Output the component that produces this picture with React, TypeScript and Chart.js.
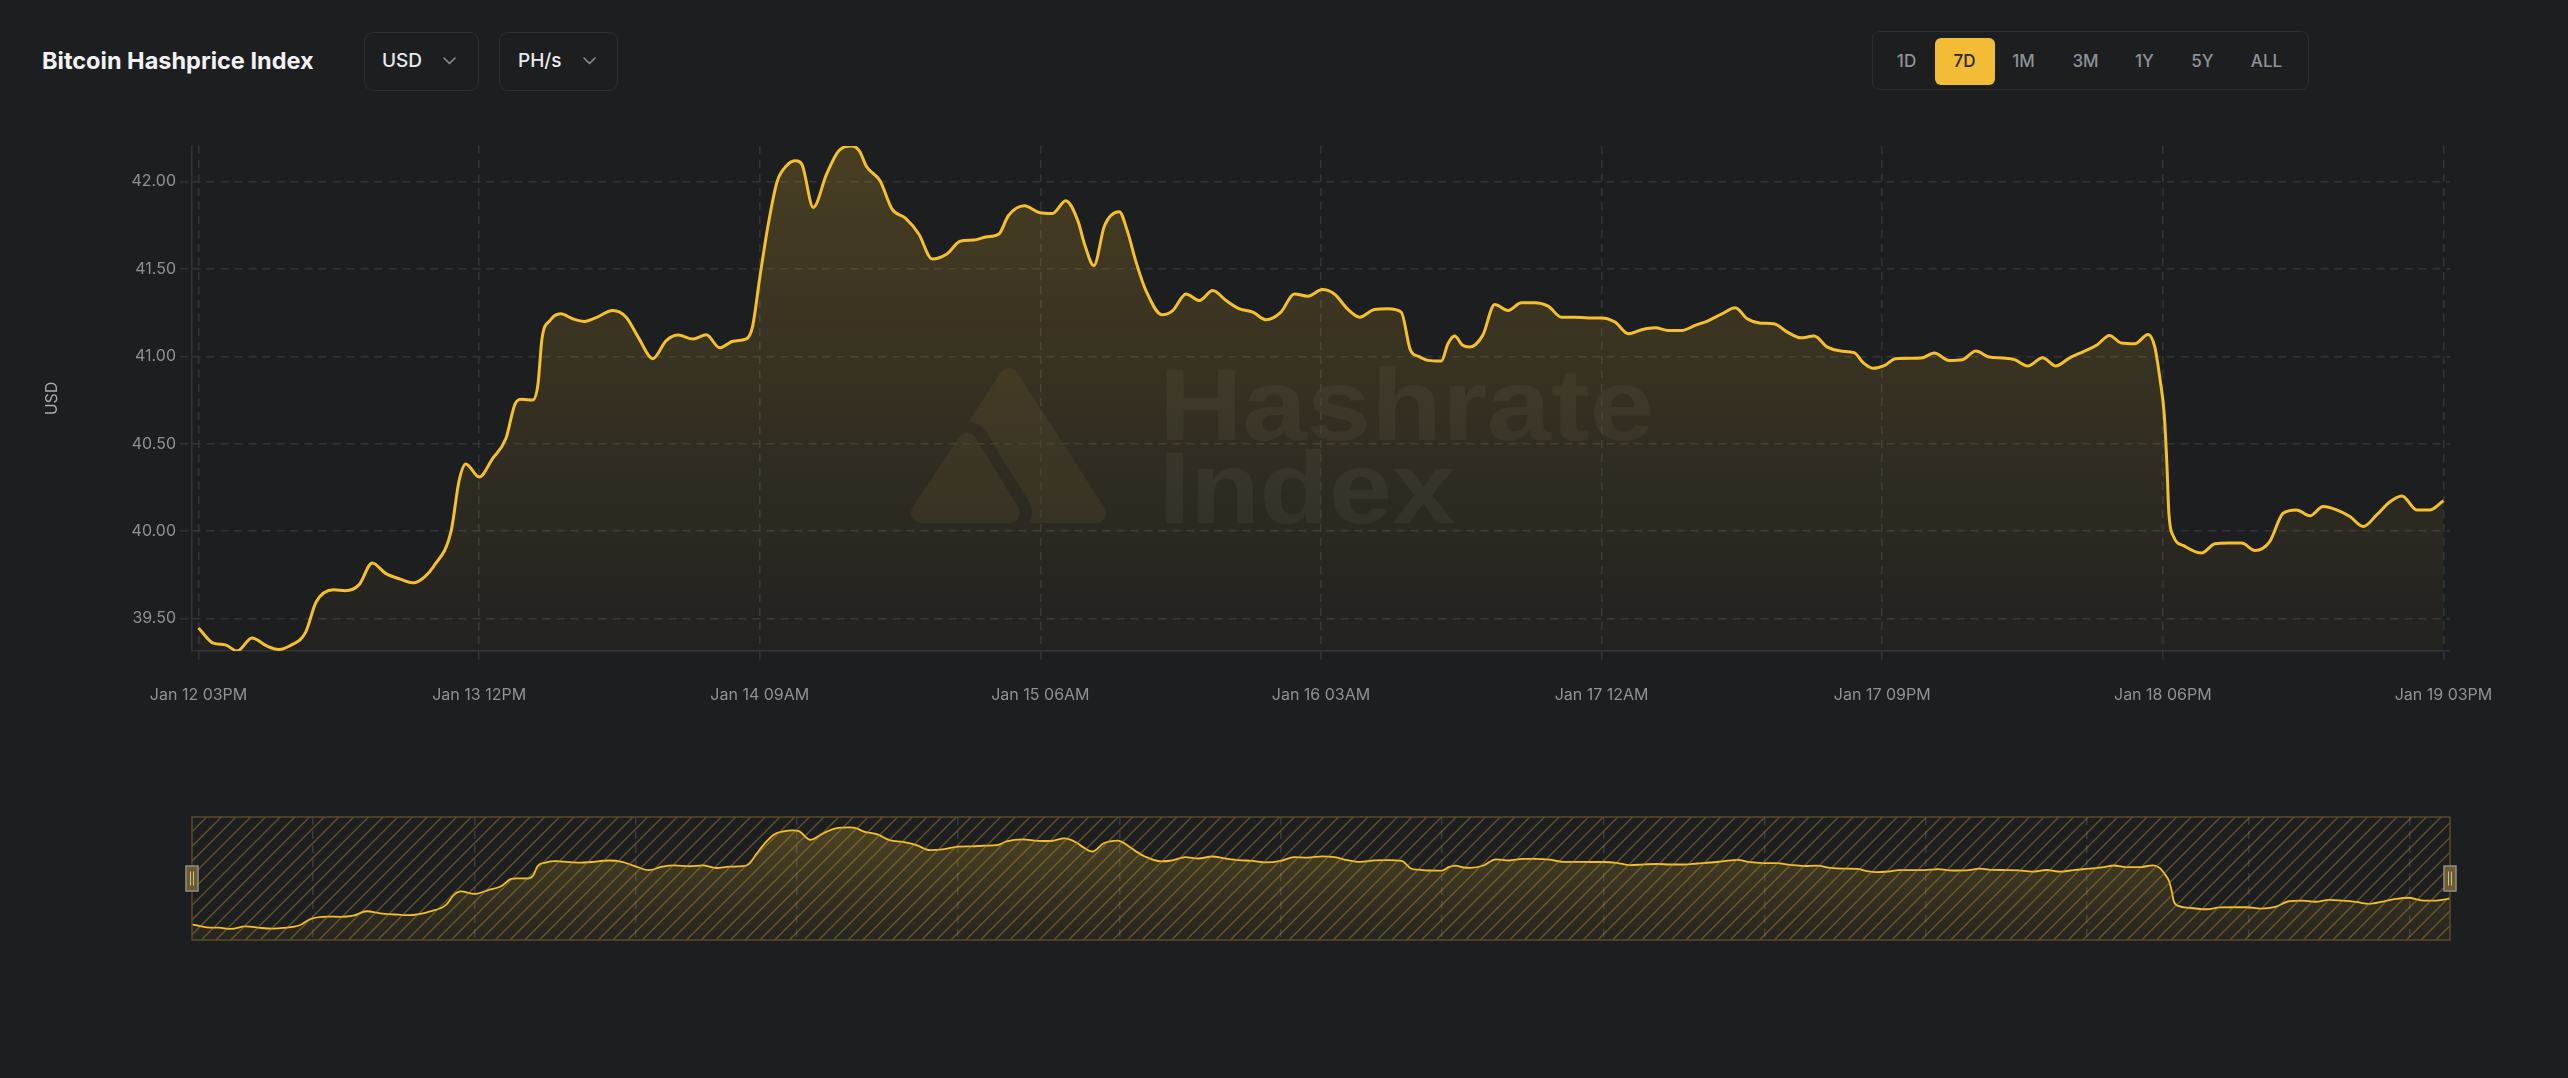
import React, { useEffect, useRef } from 'react';
import { Chart, registerables } from 'chart.js';

Chart.register(...registerables);

// ---- data (hours since Jan 12 03PM, hashprice in USD/PH/s/day) ----
const hours = [
  0, 1.1, 2.0, 2.9, 4.0, 5.1, 6.0, 6.8, 8.0, 8.8, 10.1, 11.0, 12.0, 13.0, 14.0, 15.1, 16.1, 16.9, 17.6,
  18.9, 19.5, 20.0, 21.0, 22.0, 23.0, 23.7, 24.2, 25.0, 25.4, 25.7, 26.3, 27.1, 28.0, 28.9, 29.7, 31.0,
  32.0, 32.9, 34.0, 35.0, 35.9, 37.0, 38.0, 39.0, 40.0, 41.0, 41.45, 42.0, 42.6, 43.3, 44.0, 44.7, 45.15,
  46.0, 47.0, 47.9, 48.9, 49.45, 50.0, 51.0, 51.9, 52.9, 53.9, 54.9, 56.0, 57.0, 58.0, 59.0, 59.9, 60.6,
  61.8, 62.9, 63.9, 64.9, 65.8, 66.3, 67.0, 67.8, 68.9, 69.5, 70.2, 70.9, 72.1, 72.9, 73.9, 74.9, 75.9,
  76.9, 77.9, 78.9, 79.9, 81.0, 82.0, 83.0, 84.1, 85.0, 86.0, 86.9, 88.0, 89.0, 90.0, 90.7, 91.3, 92.0,
  93.0, 93.5, 94.0, 94.6, 95.1, 96.1, 97.0, 98.0, 99.0, 100.0, 101.0, 102.0, 103.0, 104.0, 105.0, 106.0,
  107.0, 108.0, 109.0, 110.0, 111.0, 112.0, 113.0, 114.0, 115.0, 115.9, 116.9, 117.9, 118.9, 119.9, 120.9,
  121.9, 122.9, 123.9, 124.6, 125.3, 126.2, 127.0, 128.2, 128.9, 129.9, 131.0, 132.0, 133.0, 134.0, 135.0,
  135.9, 136.9, 138.0, 139.0, 140.0, 141.1, 142.1, 143.0, 143.9, 144.9, 145.9, 146.4, 146.8, 147.1, 147.3,
  147.45, 147.8, 148.6, 149.9, 150.9, 151.9, 152.9, 153.9, 155.0, 156.0, 157.0, 158.0, 159.0, 160.0, 161.0,
  162.0, 163.0, 164.0, 164.9, 166.0, 167.0, 168.0,
];

const hashprice = [
  39.447, 39.36, 39.35, 39.315, 39.39, 39.344, 39.324, 39.344, 39.42, 39.595, 39.665, 39.66, 39.693, 39.818,
  39.759, 39.726, 39.705, 39.738, 39.8,
  40.0, 40.29, 40.385, 40.31, 40.415, 40.53, 40.73, 40.755, 40.75, 40.84, 41.1, 41.205, 41.243, 41.215, 41.2,
  41.22, 41.262,
  41.224, 41.11, 40.987, 41.09, 41.122, 41.099, 41.124, 41.049, 41.087, 41.1, 41.167, 41.45, 41.74, 42.0, 42.09,
  42.118, 42.099,
  41.852, 42.042, 42.175, 42.203, 42.175, 42.084, 42.004, 41.842, 41.79, 41.7, 41.557, 41.586, 41.658, 41.665,
  41.684, 41.7, 41.804,
  41.861, 41.823, 41.817, 41.89, 41.776, 41.643, 41.519, 41.747, 41.827, 41.719, 41.529, 41.376, 41.238, 41.262,
  41.357, 41.319, 41.376,
  41.319, 41.272, 41.253, 41.209, 41.253, 41.357, 41.344, 41.382, 41.357, 41.27, 41.224, 41.268, 41.272, 41.253,
  41.034, 41.0, 40.977,
  40.973, 41.072, 41.116, 41.063, 41.053, 41.12, 41.297, 41.262, 41.306, 41.306, 41.287, 41.224, 41.224, 41.22,
  41.22, 41.196,
  41.129, 41.152, 41.163, 41.148, 41.148, 41.177, 41.205, 41.243, 41.278, 41.215, 41.19, 41.186, 41.139, 41.106,
  41.116,
  41.053, 41.03, 41.021, 40.962, 40.932, 40.949, 40.987, 40.989, 40.99, 41.019, 40.977, 40.981, 41.03, 40.996,
  40.99,
  40.981, 40.945, 40.992, 40.945, 40.99, 41.029, 41.067, 41.12, 41.076, 41.072, 41.125, 41.053, 40.863, 40.673,
  40.388,
  40.103, 39.97, 39.916, 39.875, 39.928, 39.932, 39.932, 39.89, 39.941, 40.103, 40.122, 40.088, 40.141, 40.122,
  40.084,
  40.027, 40.093, 40.169, 40.202, 40.122, 40.122, 40.175,
];

const xTickHours = [0, 21, 42, 63, 84, 105, 126, 147, 168];
const xTickLabels = [
  'Jan 12 03PM', 'Jan 13 12PM', 'Jan 14 09AM', 'Jan 15 06AM', 'Jan 16 03AM',
  'Jan 17 12AM', 'Jan 17 09PM', 'Jan 18 06PM', 'Jan 19 03PM',
];
const yTicks = [39.5, 40.0, 40.5, 41.0, 41.5, 42.0];
const navGridHours = [9, 21, 33, 45, 57, 69, 81, 93, 105, 117, 129, 141, 153, 165];

const chartTitle = 'Bitcoin Hashprice Index';
const currencyLabel = 'USD';
const unitLabel = 'PH/s';
const rangeLabels = ['1D', '7D', '1M', '3M', '1Y', '5Y', 'ALL'];
const activeRange = '7D';
const yAxisTitle = 'USD';
const watermarkLines = ['Hashrate', 'Index'];

// ---- styles ----
const BG = '#1d1e20';
const LINE = '#f5c02e';
const GRID = '#323439';
const AXIS = '#303237';
const TICK_TEXT = '#8e9197';

const MAIN_TOP = 130;
const MAIN_H = 590;
const NAV_TOP = 800;
const NAV_H = 160;
const W = 2568;

const watermarkPlugin = {
  id: 'hashrateWatermark',
  beforeDraw(chart: any) {
    const ctx: CanvasRenderingContext2D = chart.ctx;
    // logo on an offscreen canvas
    const off = document.createElement('canvas');
    off.width = 220;
    off.height = 180;
    const o = off.getContext('2d') as CanvasRenderingContext2D;
    const ox = 900, oy = 360;
    const tri = (pts: number[][]) => {
      o.beginPath();
      o.moveTo(pts[0][0] - ox, pts[0][1] - oy);
      o.lineTo(pts[1][0] - ox, pts[1][1] - oy);
      o.lineTo(pts[2][0] - ox, pts[2][1] - oy);
      o.closePath();
    };
    o.lineJoin = 'round';
    o.fillStyle = '#fff';
    o.strokeStyle = '#fff';
    const big = [[1009, 378], [1096, 513], [921, 513]];
    const small = [[967, 443], [1010, 513], [921, 513]];
    tri(big); o.fill(); o.lineWidth = 20; o.stroke();
    o.globalCompositeOperation = 'destination-out';
    tri(small); o.lineWidth = 44; o.stroke(); o.fill();
    o.globalCompositeOperation = 'source-over';
    tri(small); o.lineWidth = 20; o.fill(); o.stroke();
    // tint
    o.globalCompositeOperation = 'source-in';
    o.fillStyle = 'rgb(255,205,110)';
    o.fillRect(0, 0, 220, 180);

    ctx.save();
    ctx.globalAlpha = 0.055;
    ctx.drawImage(off, ox, oy - MAIN_TOP);
    ctx.restore();

    ctx.save();
    ctx.fillStyle = 'rgba(255,250,235,0.045)';
    ctx.font = 'bold 102px "Liberation Sans", Arial, sans-serif';
    ctx.textBaseline = 'alphabetic';
    const lines = [
      { t: watermarkLines[0], x: 1159, y: 440, w: 495 },
      { t: watermarkLines[1], x: 1159, y: 523, w: 296 },
    ];
    for (const l of lines) {
      const mw = ctx.measureText(l.t).width;
      ctx.save();
      ctx.translate(l.x, l.y - MAIN_TOP);
      ctx.scale(l.w / mw, 1);
      ctx.fillText(l.t, 0, 0);
      ctx.restore();
    }
    ctx.restore();
  },
};

const navigatorPlugin = {
  id: 'navigatorDecor',
  afterDatasetsDraw(chart: any) {
    const ctx: CanvasRenderingContext2D = chart.ctx;
    const { left, right, top, bottom } = chart.chartArea;
    const h = bottom - top;
    ctx.save();
    ctx.beginPath();
    ctx.rect(left, top, right - left, h);
    ctx.clip();
    ctx.strokeStyle = 'rgba(185,150,60,0.42)';
    ctx.lineWidth = 1.5;
    ctx.beginPath();
    for (let x = left - h; x < right + h; x += 14.7) {
      ctx.moveTo(x, bottom);
      ctx.lineTo(x + h, top);
    }
    ctx.stroke();
    ctx.restore();

    ctx.save();
    ctx.strokeStyle = '#5a4b27';
    ctx.lineWidth = 1.5;
    ctx.strokeRect(left, top, right - left, h);
    const cy = (top + bottom) / 2;
    for (const hx of [left, right]) {
      const hw = 12, hh = 25;
      ctx.fillStyle = '#6e5b2b';
      ctx.strokeStyle = '#8f8f8f';
      ctx.lineWidth = 1.5;
      ctx.beginPath();
      ctx.rect(hx - hw / 2, cy - hh / 2, hw, hh);
      ctx.fill();
      ctx.stroke();
      ctx.strokeStyle = '#c9bd98';
      ctx.lineWidth = 1;
      ctx.beginPath();
      ctx.moveTo(hx - 1.5, cy - 7); ctx.lineTo(hx - 1.5, cy + 7);
      ctx.moveTo(hx + 1.5, cy - 7); ctx.lineTo(hx + 1.5, cy + 7);
      ctx.stroke();
    }
    ctx.restore();
  },
};

const makeGradient = (a0: number, a1: number) => (context: any) => {
  const { ctx, chartArea } = context.chart;
  if (!chartArea) return 'rgba(245,192,46,0.1)';
  const g = ctx.createLinearGradient(0, chartArea.top, 0, chartArea.bottom);
  g.addColorStop(0, `rgba(245,192,46,${a0})`);
  g.addColorStop(1, `rgba(245,192,46,${a1})`);
  return g;
};

function Chevron() {
  return (
    <svg width="13" height="8" viewBox="0 0 13 8" style={{ display: 'block' }}>
      <polyline points="1,1 6.5,6.5 12,1" fill="none" stroke="#8a8d93" strokeWidth="1.6" strokeLinecap="round" strokeLinejoin="round" />
    </svg>
  );
}

function Dropdown({ left, width, label, textLeft, chevLeft }: any) {
  return (
    <div
      style={{
        position: 'absolute', left, top: 32, width, height: 59, boxSizing: 'border-box',
        border: '1.5px solid #2c2e33', borderRadius: 9,
      }}
    >
      <div style={{ position: 'absolute', left: textLeft, top: 0, height: 56, lineHeight: '56px', fontSize: 19, fontWeight: 500, color: '#e9eaec' }}>
        {label}
      </div>
      <div style={{ position: 'absolute', left: chevLeft, top: 24 }}>
        <Chevron />
      </div>
    </div>
  );
}

export default function App() {
  const mainRef = useRef<HTMLCanvasElement | null>(null);
  const navRef = useRef<HTMLCanvasElement | null>(null);

  useEffect(() => {
    const points = hours.map((h, i) => ({ x: h, y: hashprice[i] }));
    const yMin = Math.min(...hashprice);
    const yMax = Math.max(...hashprice);
    const tickFont = { family: 'Inter, "Noto Sans", sans-serif', size: 16 };

    const main = new Chart(mainRef.current as HTMLCanvasElement, {
      type: 'line',
      data: {
        datasets: [
          {
            data: points,
            borderColor: LINE,
            borderWidth: 3,
            pointRadius: 0,
            cubicInterpolationMode: 'monotone',
            fill: 'start',
            backgroundColor: makeGradient(0.2, 0.025),
          } as any,
        ],
      },
      options: {
        responsive: false,
        maintainAspectRatio: false,
        animation: false,
        layout: { padding: { top: 16, right: 118, left: 0, bottom: 0 } },
        plugins: { legend: { display: false }, tooltip: { enabled: false } },
        scales: {
          x: {
            type: 'linear',
            min: -0.49,
            max: 168.49,
            afterBuildTicks: (s: any) => { s.ticks = xTickHours.map((v) => ({ value: v })); },
            afterFit: (s: any) => { s.height = 69; },
            ticks: {
              autoSkip: false,
              maxRotation: 0,
              padding: 23,
              color: TICK_TEXT,
              font: tickFont,
              callback: (v: any) => {
                const i = xTickHours.indexOf(Number(v));
                return i >= 0 ? xTickLabels[i] : '';
              },
            },
            grid: { color: GRID, lineWidth: 1.5, tickLength: 12, tickColor: GRID, tickBorderDash: [8, 6] },
            border: { display: true, color: AXIS, width: 1.5, dash: [8, 6] },
          },
          y: {
            type: 'linear',
            min: yMin,
            max: yMax,
            afterBuildTicks: (s: any) => { s.ticks = yTicks.map((v) => ({ value: v })); },
            afterFit: (s: any) => { s.width = 192; },
            ticks: {
              padding: 4,
              color: TICK_TEXT,
              font: tickFont,
              callback: (v: any) => Number(v).toFixed(2),
            },
            grid: { color: GRID, lineWidth: 1.5, tickLength: 12, tickColor: GRID, tickBorderDash: [8, 6] },
            border: { display: true, color: AXIS, width: 1.5, dash: [8, 6] },
            title: {
              display: true,
              text: yAxisTitle,
              color: '#a9acb2',
              font: { family: 'Inter, "Noto Sans", sans-serif', size: 16 },
              padding: { top: 43, bottom: 0 },
            },
          },
        },
      } as any,
      plugins: [watermarkPlugin],
    });

    const nav = new Chart(navRef.current as HTMLCanvasElement, {
      type: 'line',
      data: {
        datasets: [
          {
            data: points,
            borderColor: LINE,
            borderWidth: 1.8,
            pointRadius: 0,
            cubicInterpolationMode: 'monotone',
            fill: 'start',
            backgroundColor: makeGradient(0.24, 0.04),
          } as any,
        ],
      },
      options: {
        responsive: false,
        maintainAspectRatio: false,
        animation: false,
        layout: { padding: { top: 17, right: 118, left: 192, bottom: 20 } },
        plugins: { legend: { display: false }, tooltip: { enabled: false } },
        scales: {
          x: {
            type: 'linear',
            min: 0,
            max: 168,
            afterBuildTicks: (s: any) => { s.ticks = navGridHours.map((v) => ({ value: v })); },
            afterFit: (s: any) => { s.height = 0; },
            ticks: { display: false },
            grid: { color: '#393b40', lineWidth: 1.5, drawTicks: false },
            border: { display: false, dash: [8, 6] },
          },
          y: {
            type: 'linear',
            min: 39.0,
            max: 42.5,
            display: false,
          },
        },
      } as any,
      plugins: [navigatorPlugin],
    });

    return () => {
      main.destroy();
      nav.destroy();
    };
  }, []);

  const rangeCenters = [35, 93, 152, 214, 273, 331, 395];

  return (
    <div
      style={{
        position: 'fixed', left: 0, top: 0, width: W, height: 1078, background: BG, overflow: 'hidden',
        fontFamily: 'Inter, "Noto Sans", sans-serif',
      }}
    >
      <div style={{ position: 'absolute', left: 42, top: 47, lineHeight: '28px', fontSize: 23.5, fontWeight: 700, color: '#f1f2f4', whiteSpace: 'nowrap' }}>
        {chartTitle}
      </div>
      <Dropdown left={364} width={115} label={currencyLabel} textLeft={17} chevLeft={78} />
      <Dropdown left={499} width={119} label={unitLabel} textLeft={18} chevLeft={83} />

      <div
        style={{
          position: 'absolute', left: 1872, top: 31, width: 437, height: 59, boxSizing: 'border-box',
          border: '1.5px solid #2c2e33', borderRadius: 8,
        }}
      >
        {rangeLabels.map((r, i) => {
          const active = r === activeRange;
          return (
            <div
              key={r}
              style={{
                position: 'absolute',
                left: rangeCenters[i] - 30 - 1.5,
                top: 5.5,
                width: 60,
                height: 47,
                lineHeight: '47px',
                textAlign: 'center',
                borderRadius: 6,
                background: active ? '#f2bc36' : 'transparent',
                color: active ? '#2a2a2b' : '#8d929b',
                fontSize: 17,
                fontWeight: 500,
              }}
            >
              {r}
            </div>
          );
        })}
      </div>

      <canvas
        ref={mainRef}
        width={W}
        height={MAIN_H}
        style={{ position: 'absolute', left: 0, top: MAIN_TOP, width: W, height: MAIN_H }}
      />
      <canvas
        ref={navRef}
        width={W}
        height={NAV_H}
        style={{ position: 'absolute', left: 0, top: NAV_TOP, width: W, height: NAV_H }}
      />
    </div>
  );
}
